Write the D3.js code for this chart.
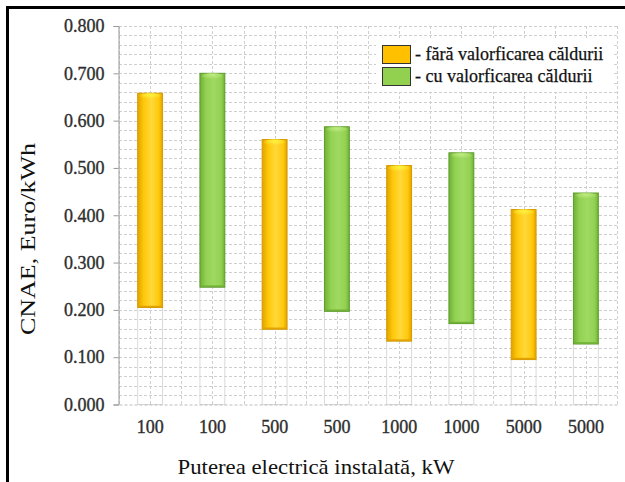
<!DOCTYPE html>
<html>
<head>
<meta charset="utf-8">
<script src="https://cdn.jsdelivr.net/npm/d3@7"></script>
<style>
  html, body { margin: 0; padding: 0; background: #fff; }
  svg { display: block; }
</style>
</head>
<body>
<svg id="chart" width="625" height="482"></svg>
<script>
// ---- data ----
const categories = ["100", "100", "500", "500", "1000", "1000", "5000", "5000"];
const seriesOf = [0, 1, 0, 1, 0, 1, 0, 1];
const seriesNames = ["- fără valorficarea căldurii", "- cu valorficarea căldurii"];
const lowValues = [0.205, 0.248, 0.159, 0.197, 0.134, 0.171, 0.095, 0.128];
const highValues = [0.658, 0.700, 0.560, 0.587, 0.505, 0.532, 0.412, 0.447];
const yTicks = [0, 0.1, 0.2, 0.3, 0.4, 0.5, 0.6, 0.7, 0.8];
const yTitle = "CNAE, Euro/kWh";
const xTitle = "Puterea electrică instalată, kW";

const FONT = "Liberation Serif";
const svg = d3.select("#chart");
const plot = { left: 119, right: 617, top: 26, bottom: 404.5 };

const x = d3.scaleBand().domain(d3.range(categories.length)).range([plot.left, plot.right]).padding(0);
const y = d3.scaleLinear().domain([0, 0.8]).range([plot.bottom, plot.top]);

const defs = svg.append("defs");
const pal = [
  { edge: "#E2A200", mid: "#FFC90A", light: "#FFD83A", cap: "#FFF23C", stroke: "#D69A00" },
  { edge: "#6FB236", mid: "#93D152", light: "#9FD962", cap: "#BEEB80", stroke: "#5E9A2C" }
];
pal.forEach((p, i) => {
  const g = defs.append("linearGradient").attr("id", "bar" + i).attr("x1", "0").attr("x2", "1").attr("y1", "0").attr("y2", "0");
  g.append("stop").attr("offset", "0%").attr("stop-color", p.edge);
  g.append("stop").attr("offset", "25%").attr("stop-color", p.mid);
  g.append("stop").attr("offset", "55%").attr("stop-color", p.light);
  g.append("stop").attr("offset", "85%").attr("stop-color", p.mid);
  g.append("stop").attr("offset", "100%").attr("stop-color", p.edge);
  const c = defs.append("radialGradient").attr("id", "cap" + i).attr("cx", "50%").attr("cy", "30%").attr("r", "60%");
  c.append("stop").attr("offset", "0%").attr("stop-color", p.cap);
  c.append("stop").attr("offset", "100%").attr("stop-color", p.cap).attr("stop-opacity", 0);
});

// ---- frame ----
svg.append("rect").attr("x", 7.5).attr("y", 7.5).attr("width", 800).attr("height", 800)
  .attr("fill", "none").attr("stroke", "#000").attr("stroke-width", 3);

// ---- grid ----
const grid = svg.append("g").attr("stroke", "#cfcfcf").attr("stroke-width", 1).attr("stroke-dasharray", "3,2").attr("fill", "none");
d3.range(1, 41).forEach(k => {
  const v = k * 0.02;
  grid.append("line").attr("x1", plot.left).attr("x2", plot.right)
    .attr("y1", Math.round(y(v)) + 0.5).attr("y2", Math.round(y(v)) + 0.5);
});
const bw = x.bandwidth();
for (let i = 0; i <= categories.length; i++) {
  const xb = Math.round(plot.left + i * bw) + 0.5;
  grid.append("line").attr("x1", xb).attr("x2", xb).attr("y1", plot.top).attr("y2", plot.bottom);
  if (i < categories.length) {
    const xc = Math.round(x(i) + bw / 2) + 0.5;
    grid.append("line").attr("x1", xc).attr("x2", xc).attr("y1", plot.top).attr("y2", plot.bottom);
  }
}

// ---- faint base bars (invisible stacked base) ----
const barW = bw * 0.4;
svg.append("g").selectAll("rect").data(lowValues).join("rect")
  .attr("x", (d, i) => x(i) + (bw - barW) / 2)
  .attr("y", d => y(d))
  .attr("width", barW)
  .attr("height", d => y(0) - y(d))
  .attr("fill", "none").attr("stroke", "#d9d9d9").attr("stroke-width", 1);

// ---- legend ----
svg.append("rect").attr("x", 376).attr("y", 38).attr("width", 237).attr("height", 54).attr("fill", "#fff");
const leg = svg.append("g");
seriesNames.forEach((name, i) => {
  leg.append("rect").attr("x", 382.5).attr("y", 45.5 + i * 22).attr("width", 28).attr("height", 18)
    .attr("fill", i === 0 ? "#FFC000" : "#92D050").attr("stroke", "#333").attr("stroke-width", 1);
  leg.append("text").attr("x", 415).attr("y", 60 + i * 22)
    .attr("font-family", FONT).attr("font-size", 18).attr("fill", "#111")
    .attr("stroke", "#111").attr("stroke-width", 0.25)
    .text(name);
});

// ---- bars ----
const bars = svg.append("g");
highValues.forEach((hv, i) => {
  const s = seriesOf[i];
  const bx = x(i) + (bw - barW) / 2;
  const top = y(hv), bot = y(lowValues[i]);
  bars.append("rect").attr("x", bx).attr("y", top).attr("width", barW).attr("height", bot - top)
    .attr("fill", `url(#bar${s})`).attr("stroke", pal[s].stroke).attr("stroke-width", 1);
  bars.append("ellipse").attr("cx", bx + barW / 2).attr("cy", top + 3).attr("rx", barW / 2 - 1.5).attr("ry", 3.5)
    .attr("fill", `url(#cap${s})`);
  bars.append("line").attr("x1", bx + 1).attr("x2", bx + barW - 1).attr("y1", bot - 1).attr("y2", bot - 1)
    .attr("stroke", pal[s].edge).attr("stroke-width", 1.5);
});

// ---- axes ----
const yAxis = d3.axisLeft(y).tickValues(yTicks).tickFormat(d3.format(".3f")).tickSize(5).tickPadding(9);
const gy = svg.append("g").attr("transform", `translate(${plot.left - 0.5},0)`).call(yAxis)
  .attr("font-family", FONT).attr("font-size", 18);
gy.select(".domain").attr("stroke", "#9a9a9a");
gy.selectAll(".tick line").attr("stroke", "#9a9a9a");
gy.selectAll(".tick text").attr("font-family", FONT)
  .attr("font-size", 18).attr("fill", "#2e2e2e").attr("stroke", "#2e2e2e").attr("stroke-width", 0.35);

const xAxis = d3.axisBottom(x).tickFormat(i => categories[i]).tickSize(0).tickPadding(16);
const gx = svg.append("g").attr("transform", `translate(0,${plot.bottom})`).call(xAxis)
  .attr("font-family", FONT).attr("font-size", 18);
gx.select(".domain").attr("stroke", "#bdbdbd").attr("stroke-dasharray", "3,2");
gx.selectAll(".tick text").attr("font-family", FONT)
  .attr("font-size", 18).attr("fill", "#2e2e2e").attr("stroke", "#2e2e2e").attr("stroke-width", 0.35);

// ---- titles ----
svg.append("text").attr("x", 316).attr("y", 474).attr("text-anchor", "middle")
  .attr("font-family", FONT).attr("font-size", 22).attr("fill", "#111")
  .attr("textLength", 277).attr("lengthAdjust", "spacingAndGlyphs")
  .text(xTitle);
svg.append("text").attr("transform", "translate(35,239) rotate(-90)").attr("text-anchor", "middle")
  .attr("font-family", FONT).attr("font-size", 22).attr("fill", "#111")
  .attr("textLength", 192).attr("lengthAdjust", "spacingAndGlyphs")
  .text(yTitle);
</script>
</body>
</html>
